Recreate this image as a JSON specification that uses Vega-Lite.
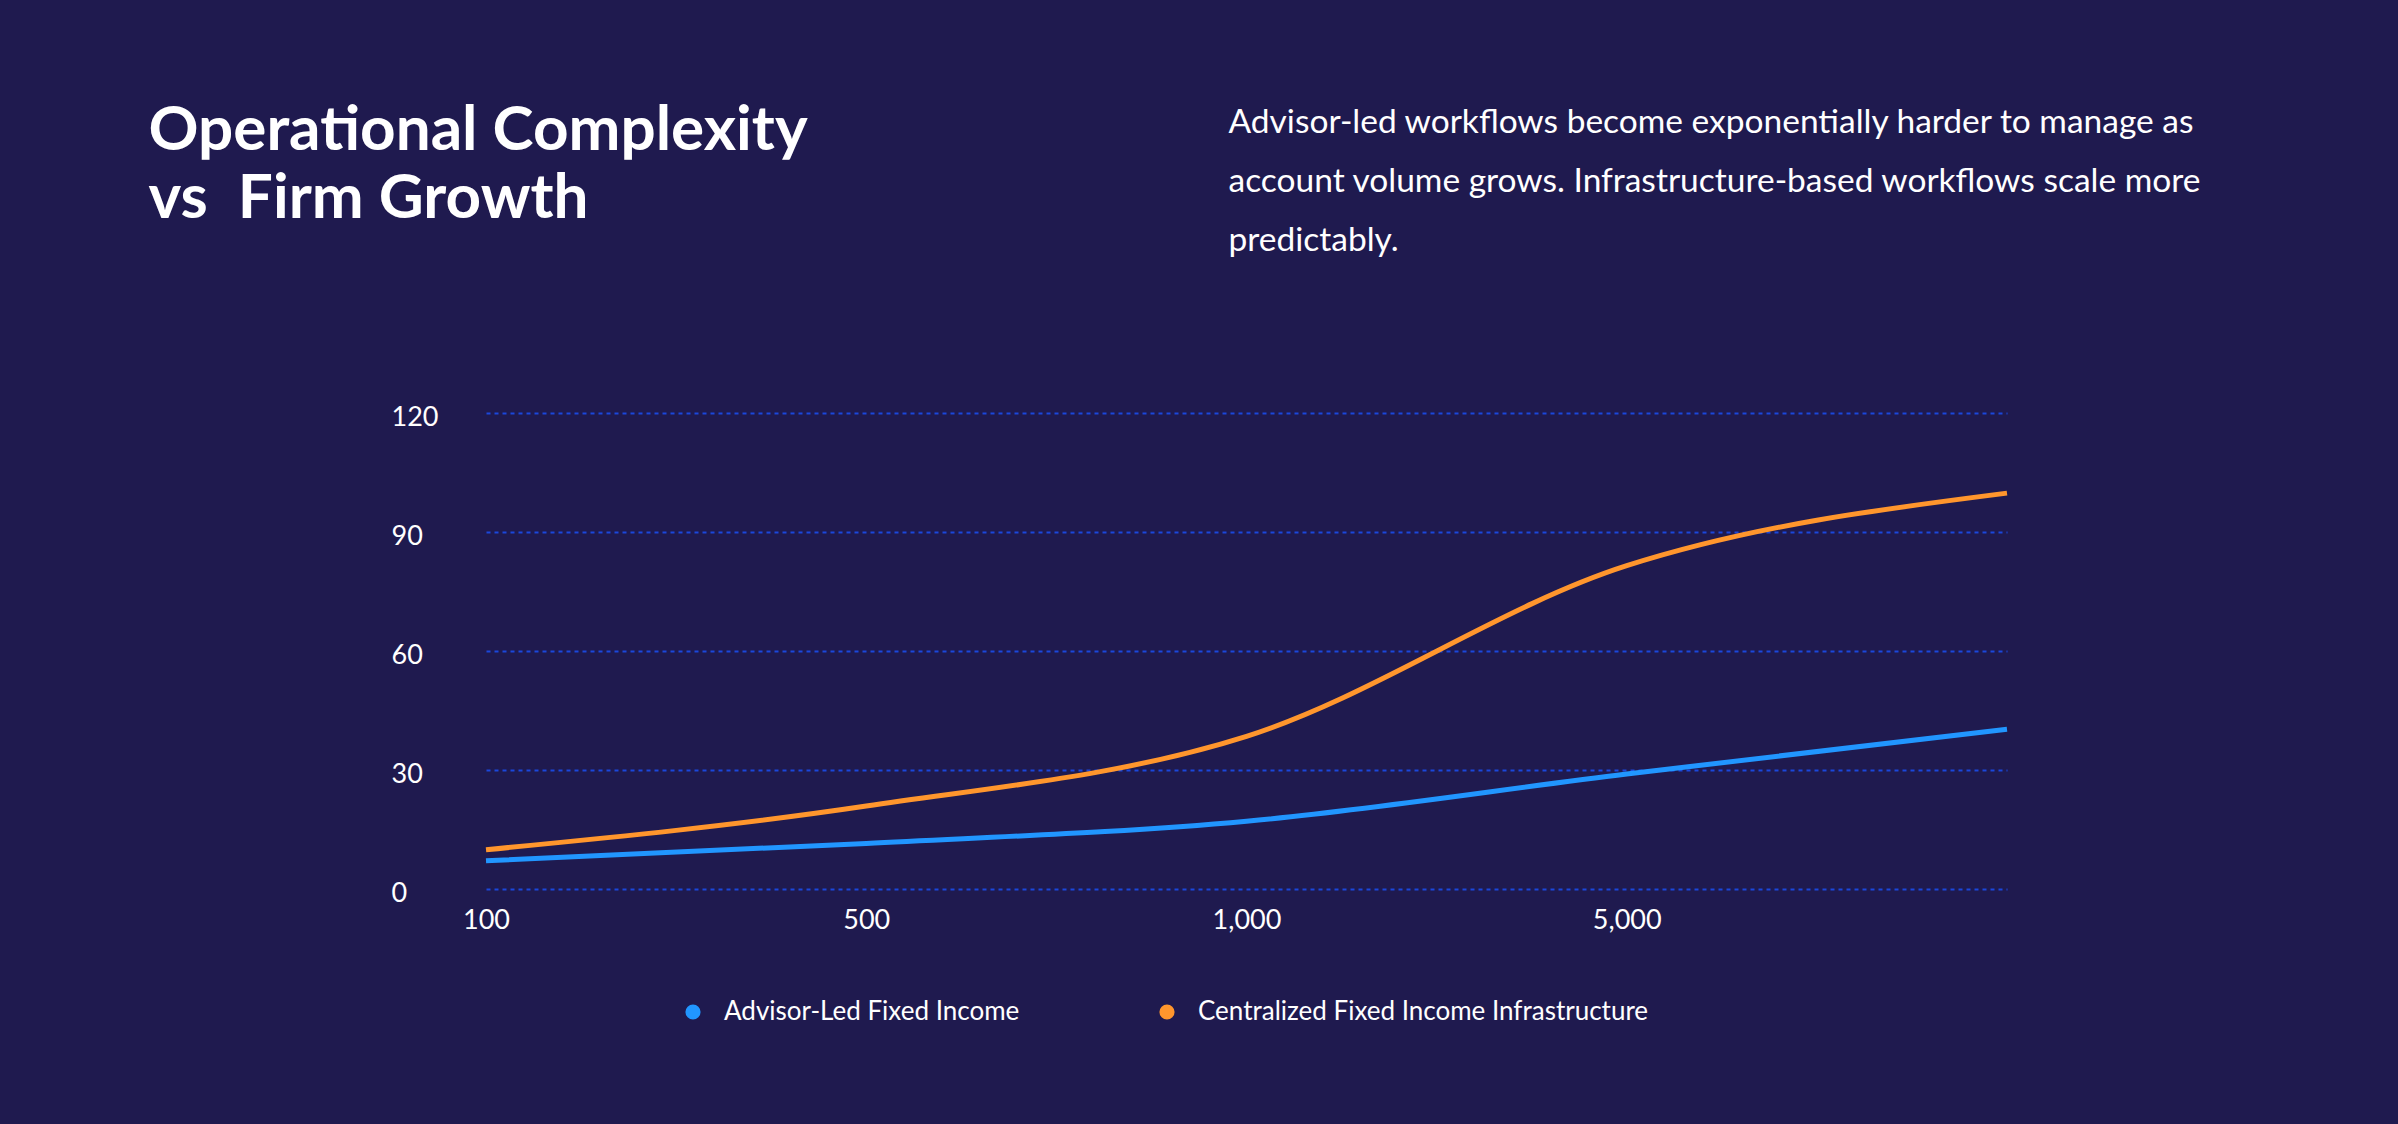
{
  "$schema": "https://vega.github.io/schema/vega-lite/v6.json",
  "width": 1555,
  "height": 476,
  "autosize": {"type": "none"},
  "padding": {"left": 464, "top": 413, "right": 379, "bottom": 235},
  "background": "#1F1A4F",
  "config": {"view": {"stroke": null}},
  "data": {
    "values": [
      {"accounts": "100", "series": "Advisor-Led Fixed Income", "complexity": 7.1},
      {"accounts": "500", "series": "Advisor-Led Fixed Income", "complexity": 11.5},
      {"accounts": "1,000", "series": "Advisor-Led Fixed Income", "complexity": 17.1},
      {"accounts": "5,000", "series": "Advisor-Led Fixed Income", "complexity": 29},
      {"accounts": "10,000", "series": "Advisor-Led Fixed Income", "complexity": 40.3},
      {"accounts": "100", "series": "Centralized Fixed Income Infrastructure", "complexity": 9.9},
      {"accounts": "500", "series": "Centralized Fixed Income Infrastructure", "complexity": 20.9},
      {"accounts": "1,000", "series": "Centralized Fixed Income Infrastructure", "complexity": 38.5},
      {"accounts": "5,000", "series": "Centralized Fixed Income Infrastructure", "complexity": 81.5},
      {"accounts": "10,000", "series": "Centralized Fixed Income Infrastructure", "complexity": 99.8}
    ]
  },
  "mark": {"type": "line", "interpolate": "monotone", "strokeWidth": 5, "strokeCap": "butt"},
  "encoding": {
    "x": {
      "field": "accounts",
      "type": "ordinal",
      "sort": ["100", "500", "1,000", "5,000", "10,000"],
      "scale": {"type": "point", "range": [22, 1543], "padding": 0},
      "axis": {
        "values": ["100", "500", "1,000", "5,000"],
        "labelAngle": 0,
        "title": ["Operational Complexity", "vs \u00a0Firm Growth"],
        "titleX": -316,
        "titleY": -740,
        "titleAlign": "left",
        "titleAnchor": "start",
        "titleBaseline": "alphabetic",
        "titleFont": "Lato",
        "titleFontSize": 62,
        "titleFontWeight": "bold",
        "titleColor": "#FFFFFF",
        "titleLineHeight": 68,
        "domain": false,
        "ticks": false,
        "grid": false,
        "labelFont": "Lato",
        "labelFontSize": 27,
        "labelColor": "#FFFFFF",
        "labelPadding": 18
      }
    },
    "y": {
      "field": "complexity",
      "type": "quantitative",
      "scale": {"domain": [0, 120]},
      "axis": {
        "values": [0, 30, 60, 90, 120],
        "title": [
          "Advisor-led workflows become exponentially harder to manage as",
          "account volume grows. Infrastructure-based workflows scale more",
          "predictably."
        ],
        "titleX": 764,
        "titleY": -281,
        "titleAngle": 0,
        "titleAlign": "left",
        "titleAnchor": "start",
        "titleBaseline": "alphabetic",
        "titleFont": "Lato",
        "titleFontSize": 33.5,
        "titleFontWeight": "normal",
        "titleColor": "#FFFFFF",
        "titleLineHeight": 59,
        "domain": false,
        "ticks": false,
        "labelAlign": "left",
        "labelPadding": 73,
        "labelOffset": 4,
        "labelFont": "Lato",
        "labelFontSize": 27,
        "labelColor": "#FFFFFF",
        "grid": true,
        "gridColor": "#1B47DB",
        "gridDash": [4, 4],
        "gridWidth": 2
      }
    },
    "color": {
      "field": "series",
      "type": "nominal",
      "scale": {
        "domain": ["Advisor-Led Fixed Income", "Centralized Fixed Income Infrastructure"],
        "range": ["#2196FF", "#FF962D"]
      },
      "legend": {
        "orient": "none",
        "legendX": 216,
        "legendY": 586,
        "direction": "horizontal",
        "title": null,
        "symbolType": "circle",
        "symbolSize": 230,
        "labelFont": "Lato",
        "labelFontSize": 26,
        "labelColor": "#FFFFFF",
        "labelOffset": 18,
        "columnPadding": 134,
        "labelLimit": 0,
        "encode": {
          "symbols": {
            "update": {
              "fill": {"scale": "color", "field": "value"},
              "strokeWidth": {"value": 0}
            }
          }
        }
      }
    }
  }
}
